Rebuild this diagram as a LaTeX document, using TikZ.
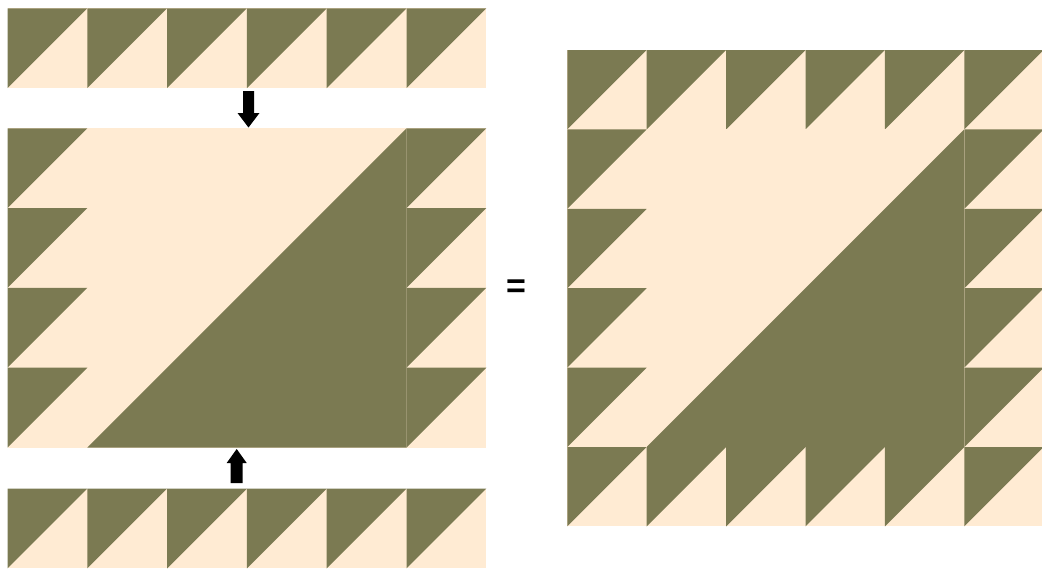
\documentclass[tikz,border=0pt]{standalone}
\usepackage{fontspec}
\setmainfont{Liberation Sans}
\definecolor{olive}{RGB}{123,122,82}
\definecolor{cream}{RGB}{255,235,211}
\tikzset{
  lightfill/.style={fill=cream},
  darkfill/.style={fill=olive},
  blockarrow/.style={fill=black},
}
\newcommand\qtile[3]{%
  \fill[lightfill] (#1,#2) rectangle ++(#3,#3);
  \fill[darkfill] (#1,#2) -- ++(#3,0) -- ++(-#3,#3) -- cycle;
}
\newcommand\centerpart[3]{%
  \fill[lightfill] ({#1+#3},#2) rectangle ++({4*#3},{4*#3});
  \fill[darkfill] ({#1+5*#3},#2) -- ++(0,{4*#3}) -- ++({-4*#3},0) -- cycle;
}
\begin{document}
\begin{tikzpicture}[x=1pt,y=-1pt]
\useasboundingbox (0,0) rectangle (1042,568);
% ---------- left: top strip ----------
\def\sL{79.8}
\foreach \i in {0,...,5}{\qtile{7.5+\i*\sL}{8.3}{\sL}}
% ---------- left: middle block ----------
\centerpart{7.5}{128.3}{\sL}
\foreach \j in {0,...,3}{
  \qtile{7.5}{128.3+\j*\sL}{\sL}
  \qtile{7.5+5*\sL}{128.3+\j*\sL}{\sL}
}
% ---------- left: bottom strip ----------
\foreach \i in {0,...,5}{\qtile{7.5+\i*\sL}{488.6}{\sL}}
% ---------- arrows ----------
\coordinate (dtop) at (248.5,91);
\coordinate (dtip) at (248.5,127.5);
\fill[blockarrow] (243,91) -- (254,91) -- (254,113) -- (259.5,113) -- (dtip) -- (237.5,113) -- (243,113) -- cycle;
\coordinate (utip) at (236.7,449);
\fill[blockarrow] (230.7,483) -- (242.7,483) -- (242.7,463) -- (246.7,463) -- (utip) -- (226.7,463) -- (230.7,463) -- cycle;
% ---------- equals ----------
\node[font=\fontsize{34}{34}\selectfont\bfseries, inner sep=0pt] (eq) at (516,289) {=};
% ---------- right: combined block ----------
\def\sR{79.4}
\foreach \i in {0,...,5}{\qtile{567.3+\i*\sR}{50}{\sR}}
\centerpart{567.3}{{50+\sR}}{\sR}
\foreach \j in {1,...,4}{
  \qtile{567.3}{50+\j*\sR}{\sR}
  \qtile{567.3+5*\sR}{50+\j*\sR}{\sR}
}
\foreach \i in {0,...,5}{\qtile{567.3+\i*\sR}{50+5*\sR}{\sR}}
\end{tikzpicture}
\end{document}
